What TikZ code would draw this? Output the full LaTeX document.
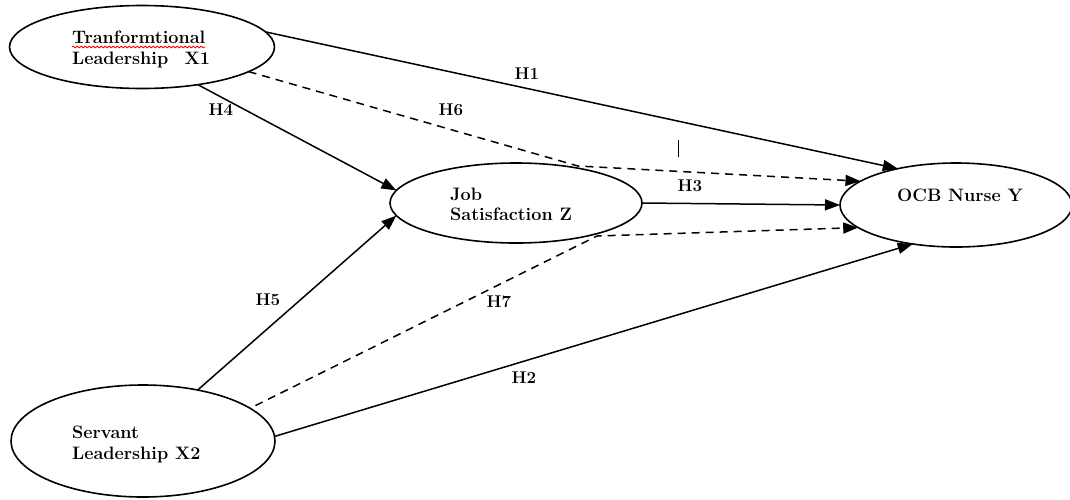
\documentclass[tikz,border=0pt]{standalone}
\usetikzlibrary{arrows.meta,shapes.geometric,decorations.pathmorphing}
\begin{document}
\begin{tikzpicture}[x=1pt,y=-1pt,
  latent/.style={ellipse,draw,line width=1.6pt,inner sep=0pt,outer sep=0pt},
  vtext/.style={anchor=base west,inner sep=0pt,font=\fontsize{18}{21}\selectfont\bfseries},
  hlab/.style={inner sep=0pt,font=\fontsize{17}{20}\selectfont\bfseries},
  path/.style={line width=1.5pt,-{Triangle[length=15pt,width=11pt]}},
  medpath/.style={path,dash pattern=on 8pt off 6pt}
]
\useasboundingbox (0,0) rectangle (1070,499);

% latent variables
\node[latent,minimum width=265pt,minimum height=83pt] (x1) at (142,47) {};
\node[latent,minimum width=252pt,minimum height=80pt] (z)  at (516,203) {};
\node[latent,minimum width=232pt,minimum height=84pt] (y)  at (956,205) {};
\node[latent,minimum width=264pt,minimum height=112pt] (x2) at (143,441) {};

% texts
\node[vtext] (x1a) at (72,43) {Tranformtional};
\node[vtext] (x1b) at (72,64) {Leadership\hspace{0.9em}X1};
\draw[red,line width=0.8pt,decorate,decoration={snake,amplitude=0.9pt,segment length=4pt}]
  ([yshift=-4pt]x1a.base west) -- ([yshift=-4pt]x1a.base east);
\node[vtext] (za) at (450,200) {Job};
\node[vtext] (zb) at (450,220) {Satisfaction Z};
\node[vtext] (ya) at (897,201) {OCB Nurse Y};
\node[vtext] (x2a) at (72,438) {Servant};
\node[vtext] (x2b) at (72,459) {Leadership X2};

% mediation bend points
\coordinate (m6) at (578,166);
\coordinate (m7) at (597,236);

% direct paths
\draw[path] (x1.7) -- (y.148);
\draw[path] (x1.-34) -- (z.174);
\draw[path] (x2.43) -- (z.-174);
\draw[path] (z.0) -- (y.180);
\draw[path] (x2.2) -- (y.-138);
% mediated paths
\draw[medpath] (x1.-13) -- (m6) -- (y.166);
\draw[medpath,shorten <=6pt] (x2.17) -- (m7) -- (y.-167);

% stray tick
\draw[line width=1pt] (678,140) coordinate (tk1) -- (678,157) coordinate (tk2);

% labels
\node[hlab] (h1) at (527,74) {H1};
\node[hlab] (h6) at (451,110) {H6};
\node[hlab] (h4) at (221,110) {H4};
\node[hlab] (h3) at (690,186) {H3};
\node[hlab] (h5) at (268,300) {H5};
\node[hlab] (h7) at (499,302) {H7};
\node[hlab] (h2) at (524,378) {H2};
\end{tikzpicture}
\end{document}
